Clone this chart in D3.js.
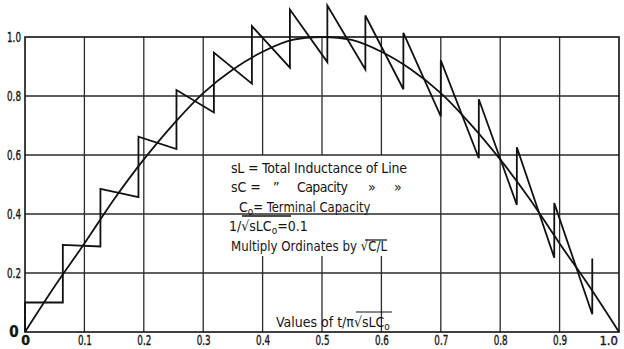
<!DOCTYPE html>
<html>
<head>
<meta charset="utf-8">
<script src="https://cdn.jsdelivr.net/npm/d3@7"></script>
<style>
  body { margin: 0; background: #fff; }
  text { font-family: "DejaVu Sans Condensed", "Liberation Sans Narrow", sans-serif; fill: #151515; }
  .grid line { stroke: #2a2a2a; stroke-width: 1.3; }
</style>
</head>
<body>
<div id="chart"></div>
<script>
// tick values and labels
var xTicks = [0, 0.1, 0.2, 0.3, 0.4, 0.5, 0.6, 0.7, 0.8, 0.9, 1.0];
var xTickLabels = ["0", "0.1", "0.2", "0.3", "0.4", "0.5", "0.6", "0.7", "0.8", "0.9", "1.0"];
var yTicks = [0, 0.2, 0.4, 0.6, 0.8, 1.0];
var yTickLabels = ["0", "0.2", "0.4", "0.6", "0.8", "1.0"];

// smooth curve
var curveX = [0, 0.05, 0.1, 0.15, 0.2, 0.25, 0.3, 0.35, 0.4, 0.45, 0.5,
              0.55, 0.6, 0.65, 0.7, 0.75, 0.8, 0.85, 0.9, 0.95, 1.0];
var curveY = [0, 0.155, 0.30, 0.45, 0.585, 0.705, 0.81, 0.89, 0.95, 0.99, 1.0,
              0.99, 0.95, 0.89, 0.81, 0.705, 0.585, 0.45, 0.30, 0.155, 0];

// zig-zag: jump positions, value just before the jump and just after it
var stepX    = [0, 0.0637, 0.127, 0.191, 0.255, 0.318, 0.382, 0.446, 0.509, 0.573, 0.637, 0.700, 0.764, 0.828, 0.891, 0.955];
var stepLow  = [0, 0.10, 0.29, 0.457, 0.62, 0.744, 0.842, 0.896, 0.915, 0.89, 0.823, 0.731, 0.589, 0.431, 0.252, 0.06];
var stepHigh = [0.10, 0.295, 0.485, 0.662, 0.82, 0.947, 1.037, 1.093, 1.107, 1.073, 1.014, 0.921, 0.789, 0.626, 0.437, 0.249];

var margin = {top: 37, right: 5, bottom: 17, left: 25},
    width = 624 - margin.left - margin.right,
    height = 349 - margin.top - margin.bottom;

var x = d3.scaleLinear().domain([0, 1]).range([0, width]);
var y = d3.scaleLinear().domain([0, 1]).range([height, 0]);

var svg = d3.select("#chart").append("svg")
    .attr("width", 624)
    .attr("height", 349)
  .append("g")
    .attr("transform", "translate(" + margin.left + "," + margin.top + ")");

// vertical grid lines; the ones behind the legend text are broken
var gapTop = y(0.6), gapBottom = 219;
var vGrid = [];
xTicks.slice(1, -1).forEach(function(t) {
  if (t > 0.35 && t < 0.65) {
    vGrid.push({x: t, y1: 0, y2: gapTop});
    vGrid.push({x: t, y1: gapBottom, y2: height});
  } else {
    vGrid.push({x: t, y1: 0, y2: height});
  }
});
var grid = svg.append("g").attr("class", "grid");
grid.selectAll(".v").data(vGrid).enter().append("line")
    .attr("x1", function(d) { return x(d.x); })
    .attr("x2", function(d) { return x(d.x); })
    .attr("y1", function(d) { return d.y1; })
    .attr("y2", function(d) { return d.y2; });
grid.selectAll(".h").data(yTicks.slice(1, -1)).enter().append("line")
    .attr("x1", 0).attr("x2", width)
    .attr("y1", function(d) { return y(d); })
    .attr("y2", function(d) { return y(d); });

// frame
svg.append("rect")
    .attr("width", width).attr("height", height)
    .attr("fill", "none").attr("stroke", "#111").attr("stroke-width", 1.6);

// axes (labels only); the last x label is drawn by hand against the edge
var xAxis = svg.append("g")
    .attr("transform", "translate(0," + height + ")")
    .call(d3.axisBottom(x).tickValues(xTicks.slice(0, -1))
      .tickFormat(function(d, i) { return xTickLabels[i]; })
      .tickSize(0).tickPadding(3));
var yAxis = svg.append("g")
    .call(d3.axisLeft(y).tickValues(yTicks)
      .tickFormat(function(d, i) { return yTickLabels[i]; })
      .tickSize(0).tickPadding(4));
[xAxis, yAxis].forEach(function(a) {
  a.attr("font-size", null).attr("font-family", null);
  a.select(".domain").remove();
  a.selectAll("text").attr("fill", null).style("font-size", "14px")
    .attr("stroke", "#151515").attr("stroke-width", 0.35)
    .each(function() {
      if (this.textContent.length > 1) {
        d3.select(this).attr("textLength", 14).attr("lengthAdjust", "spacingAndGlyphs");
      }
    });
});
yAxis.selectAll("text").attr("text-anchor", "middle").attr("x", -11);
yAxis.selectAll("text").filter(function(d) { return d === 0; })
    .style("font-size", "15px").style("font-weight", "bold");
xAxis.selectAll("text").filter(function(d) { return d === 0; })
    .style("font-weight", "bold");
svg.append("text")
    .attr("x", x(xTicks[xTicks.length - 1]) - 1).attr("y", height + 13)
    .attr("text-anchor", "end").style("font-size", "13px")
    .attr("stroke", "#151515").attr("stroke-width", 0.35)
    .text(xTickLabels[xTickLabels.length - 1]);

// smooth curve
var line = d3.line()
    .x(function(d) { return x(d[0]); })
    .y(function(d) { return y(d[1]); });
svg.append("path")
    .attr("fill", "none").attr("stroke", "#111").attr("stroke-width", 1.8)
    .attr("d", line.curve(d3.curveCatmullRom)(curveX.map(function(v, i) { return [v, curveY[i]]; })));

// zig-zag
var zig = [];
stepX.forEach(function(v, i) {
  zig.push([v, stepLow[i]]);
  zig.push([v, stepHigh[i]]);
});
svg.append("path")
    .attr("fill", "none").attr("stroke", "#111").attr("stroke-width", 1.8)
    .attr("d", d3.line().x(function(d) { return x(d[0]); }).y(function(d) { return y(d[1]); })(zig));

// legend text
var root = d3.select("svg");
var fs = "14px";
function sub(t) { t.append("tspan").text("o").attr("dy", 3).style("font-size", "10px"); }

root.append("text").attr("x", 231).attr("y", 173).style("font-size", fs)
    .attr("textLength", 176).attr("lengthAdjust", "spacing")
    .text("sL = Total Inductance of Line");

root.append("text").attr("x", 231).attr("y", 192).style("font-size", fs).text("sC =");
root.append("text").attr("x", 273).attr("y", 192).style("font-size", fs).text("\u201D");
root.append("text").attr("x", 297).attr("y", 192).style("font-size", fs)
    .attr("textLength", 51).attr("lengthAdjust", "spacing").text("Capacity");
root.append("text").attr("x", 368).attr("y", 192).style("font-size", fs).text("\u00BB");
root.append("text").attr("x", 394).attr("y", 192).style("font-size", fs).text("\u00BB");

var l3 = root.append("text").attr("x", 239).attr("y", 212).style("font-size", fs);
l3.append("tspan").text("C");
sub(l3);
l3.append("tspan").attr("dy", -3).attr("textLength", 117).attr("lengthAdjust", "spacingAndGlyphs")
    .text("= Terminal Capacity");

var l4 = root.append("text").attr("x", 229).attr("y", 231).style("font-size", fs);
l4.append("tspan").text("1/\u221AsLC");
sub(l4);
l4.append("tspan").attr("dy", -3).text("=0.1");
root.append("line").attr("x1", 242).attr("x2", 291).attr("y1", 216).attr("y2", 216)
    .attr("stroke", "#111").attr("stroke-width", 1.4);

root.append("text").attr("x", 231).attr("y", 251).style("font-size", fs)
    .attr("textLength", 156).attr("lengthAdjust", "spacingAndGlyphs")
    .text("Multiply Ordinates by \u221AC/L");
root.append("line").attr("x1", 365).attr("x2", 387).attr("y1", 240).attr("y2", 240)
    .attr("stroke", "#111").attr("stroke-width", 1.2);

var lx = root.append("text").attr("x", 276).attr("y", 327).style("font-size", "14px");
lx.append("tspan").text("Values of t/\u03C0\u221AsLC");
sub(lx);
var lxEnd = 276 + lx.node().getComputedTextLength();
root.append("line").attr("x1", lxEnd - 34).attr("x2", lxEnd + 2).attr("y1", 312).attr("y2", 312)
    .attr("stroke", "#111").attr("stroke-width", 1.2);
</script>
</body>
</html>
